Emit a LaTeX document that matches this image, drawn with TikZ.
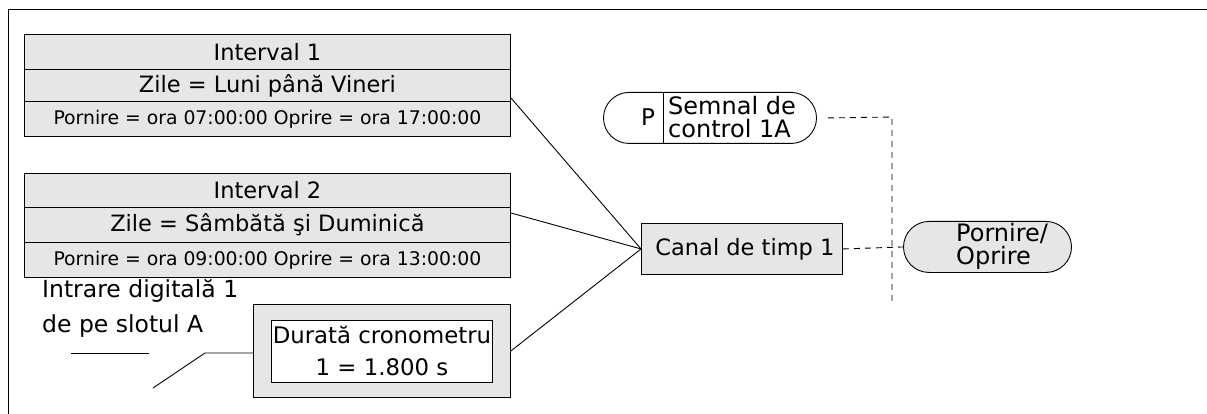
\documentclass[tikz,border=0pt]{standalone}
\usepackage{fontspec}
\setmainfont{DejaVu Sans}
\usetikzlibrary{positioning,shapes.misc}
\definecolor{tcgray}{RGB}{230,230,230}
\tikzset{
  row/.style={draw, fill=tcgray, line width=0.9pt, minimum width=486pt, inner sep=0pt, anchor=north west, font=\fontsize{22.5}{24}\selectfont},
  smallrow/.style={row, font=\fontsize{18.8}{20}\selectfont},
  pill/.style={draw, line width=0.9pt, rounded rectangle, inner sep=0pt, anchor=north west},
  wire/.style={line width=0.9pt},
  sigline/.style={line width=0.9pt, dash pattern=on 6pt off 5pt}
}
\begin{document}
\begin{tikzpicture}[x=1pt, y=-1pt]
  \useasboundingbox (0,0) rectangle (1207,414);
  \draw[line width=1pt] (8,414) -- (8,10) -- (1207,10);
  % interval 1
  \node[row, minimum height=35pt] (i1a) at (24,34) {Interval 1};
  \node[row, minimum height=32pt] (i1b) at (24,69) {Zile = Luni până Vineri};
  \node[smallrow, minimum height=35pt] (i1c) at (24,101) {Pornire = ora 07:00:00 Oprire = ora 17:00:00};
  % interval 2
  \node[row, minimum height=34pt] (i2a) at (24,173) {Interval 2};
  \node[row, minimum height=35pt] (i2b) at (24,207) {Zile = Sâmbătă şi Duminică};
  \node[smallrow, minimum height=35pt] (i2c) at (24,242) {Pornire = ora 09:00:00 Oprire = ora 13:00:00};
  % timer
  \node[draw, line width=0.9pt, fill=tcgray, anchor=north west, minimum width=257pt, minimum height=93pt] (dur) at (253,304) {};
  \node[draw, line width=0.9pt, fill=white, inner sep=0pt, minimum width=221pt, minimum height=62pt, align=center,
        font=\fontsize{22.8}{32}\selectfont] (durin) at (dur.center) {Durată cronometru\\1 = 1.800 s};
  \node[anchor=west, align=left, inner sep=0pt, font=\fontsize{23.5}{35}\selectfont] (din) at (42,308) {Intrare digitală 1\\de pe slotul A};
  \coordinate (ul1) at (71,353);
  \coordinate (ul2) at (149,353);
  \coordinate (dinend) at (153,388);
  \coordinate (dinbend) at (205,353);
  \draw[wire] (ul1) -- (ul2);
  \draw[wire] (dinend) -- (dinbend) -- (dur.west |- dinbend);
  % time channel
  \node[draw, line width=0.9pt, fill=tcgray, anchor=north west, minimum width=201pt, minimum height=51pt, inner sep=0pt,
        font=\fontsize{22.5}{24}\selectfont] (canal) at (641,223) {\hspace*{6pt}Canal de timp 1};
  \draw[wire] ([yshift=4pt]i1b.south east) -- (canal.west);
  \draw[wire] ([yshift=-6pt]i2b.north east) -- (canal.west);
  \draw[wire] (dur.east) -- (canal.west);
  % control signal
  \node[pill, fill=white, minimum width=213pt, minimum height=51pt] (sem) at (629,92) {};
  \draw[wire] (663,92) -- (663,143);
  \node[anchor=center, inner sep=0pt, font=\fontsize{23}{24}\selectfont] (semp) at (648,117.5) {P};
  \node[anchor=west, align=left, inner sep=0pt, font=\fontsize{24}{23}\selectfont] (semt) at (668,117.5) {Semnal de\\control 1A};
  % output
  \node[pill, fill=tcgray, minimum width=168pt, minimum height=51pt] (porn) at (929,221) {};
  \node[anchor=west, align=left, inner sep=0pt, font=\fontsize{24}{23}\selectfont] (pornt) at (956,246.5) {Pornire/\\Oprire};
  \coordinate (dtop) at (892,117);
  \coordinate (dbot) at (892,303);
  \draw[sigline] ([xshift=11pt]sem.east) -- (dtop) -- (dbot);
  \draw[sigline] (canal.east) -- (porn.west);
\end{tikzpicture}
\end{document}
